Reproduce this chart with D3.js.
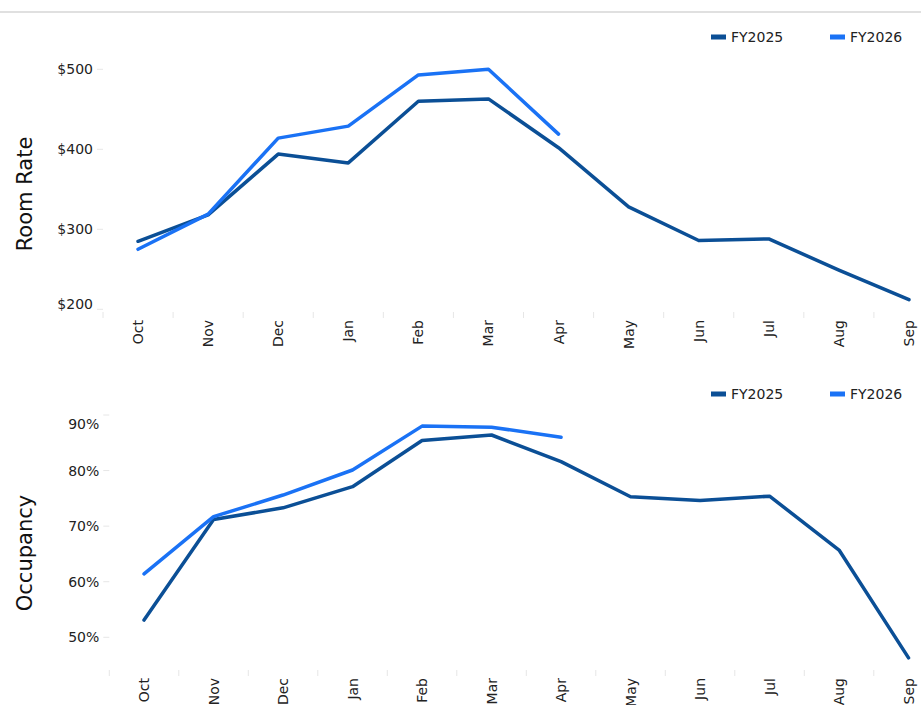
<!DOCTYPE html>
<html>
<head>
<meta charset="utf-8">
<script src="https://cdn.jsdelivr.net/npm/d3@7"></script>
<style>
  body { margin: 0; background: #fff; }
  svg { display: block; font-family: "DejaVu Sans", Verdana, sans-serif; }
</style>
</head>
<body>
<svg id="chart" width="921" height="705"></svg>
<script>
var months = ["Oct","Nov","Dec","Jan","Feb","Mar","Apr","May","Jun","Jul","Aug","Sep"];
var seriesNames = ["FY2025", "FY2026"];
var seriesColors = ["#0b4f96", "#1a72f5"];

var rateFY2025 = [285, 318, 394, 383, 460, 463, 402, 328, 286, 288, 249, 212];
var rateFY2026 = [275, 319, 414, 429, 493, 500, 419];
var rateTicks = [200, 300, 400, 500];

var occFY2025 = [53.1, 71.2, 73.3, 77.1, 85.4, 86.4, 81.6, 75.3, 74.6, 75.4, 65.7, 46.3];
var occFY2026 = [61.4, 71.7, 75.6, 80.1, 88.0, 87.8, 86.0];
var occTicks = [50, 60, 70, 80, 90];

var svg = d3.select("#chart");

// thin rule at the top
svg.append("line")
  .attr("x1", 0).attr("x2", 921)
  .attr("y1", 12).attr("y2", 12)
  .attr("stroke", "#d6d6d6").attr("stroke-width", 1.5);

function drawPanel(cfg) {
  var x = d3.scaleBand().domain(months).range([cfg.left, cfg.right]);
  var y = d3.scaleLinear().domain(cfg.domain).range(cfg.range);
  var g = svg.append("g");

  // y ticks + labels
  var yg = g.append("g");
  cfg.ticks.forEach(function(t) {
    var ty = y(t);
    yg.append("line")
      .attr("x1", cfg.left - 6).attr("x2", cfg.left)
      .attr("y1", ty).attr("y2", ty)
      .attr("stroke", "#e6e6e6").attr("stroke-width", 1);
    var shift = 0;
    if (ty <= cfg.plotTop + 1) shift = 8.5;      // label kept inside at top edge
    if (ty >= cfg.plotBottom - 1) shift = -5;    // and at bottom edge
    yg.append("text")
      .attr("x", cfg.left - 10)
      .attr("y", ty + shift)
      .attr("text-anchor", "end")
      .attr("dominant-baseline", "central")
      .attr("font-size", 14)
      .attr("fill", "#222")
      .text(cfg.fmt(t));
  });

  // x ticks between categories + rotated labels
  var xg = g.append("g");
  months.forEach(function(m) {
    var bx = x(m);
    xg.append("line")
      .attr("x1", bx).attr("x2", bx)
      .attr("y1", cfg.axisY).attr("y2", cfg.axisY + 6)
      .attr("stroke", "#e6e6e6").attr("stroke-width", 1);
    var cx = bx + x.bandwidth() / 2;
    xg.append("text")
      .attr("transform", "translate(" + cx + "," + (cfg.axisY + 8) + ") rotate(-90)")
      .attr("text-anchor", "end")
      .attr("dominant-baseline", "central")
      .attr("font-size", 14)
      .attr("fill", "#222")
      .text(m);
  });

  // axis title
  g.append("text")
    .attr("transform", "translate(25," + cfg.titleY + ") rotate(-90)")
    .attr("text-anchor", "middle")
    .attr("dominant-baseline", "central")
    .attr("font-size", 21)
    .attr("fill", "#111")
    .text(cfg.title);

  // lines
  var line = d3.line()
    .x(function(d, i) { return x(months[i]) + x.bandwidth() / 2; })
    .y(function(d) { return y(d); });

  cfg.series.forEach(function(s, k) {
    g.append("path")
      .datum(s)
      .attr("d", line)
      .attr("fill", "none")
      .attr("stroke", seriesColors[k])
      .attr("stroke-width", 3.5)
      .attr("stroke-linejoin", "round")
      .attr("stroke-linecap", "round");
  });

  // legend
  var lg = g.append("g");
  var legendX = [711, 830];
  seriesNames.forEach(function(n, k) {
    lg.append("rect")
      .attr("x", legendX[k]).attr("y", cfg.legendY - 2.5)
      .attr("width", 15).attr("height", 5)
      .attr("fill", seriesColors[k]);
    lg.append("text")
      .attr("x", legendX[k] + 20)
      .attr("y", cfg.legendY)
      .attr("dominant-baseline", "central")
      .attr("font-size", 14)
      .attr("fill", "#222")
      .text(n);
  });
}

drawPanel({
  left: 103, right: 944,
  domain: [200, 500], range: [309.3, 69.3],
  plotTop: 50, plotBottom: 309.3,
  ticks: rateTicks,
  fmt: function(v) { return "$" + v; },
  axisY: 312,
  title: "Room Rate", titleY: 194,
  legendY: 37,
  series: [rateFY2025, rateFY2026]
});

drawPanel({
  left: 109.3, right: 943.3,
  domain: [50, 90], range: [637.3, 415],
  plotTop: 415, plotBottom: 668,
  ticks: occTicks,
  fmt: function(v) { return v + "%"; },
  axisY: 670,
  title: "Occupancy", titleY: 553,
  legendY: 394,
  series: [occFY2025, occFY2026]
});
</script>
</body>
</html>
